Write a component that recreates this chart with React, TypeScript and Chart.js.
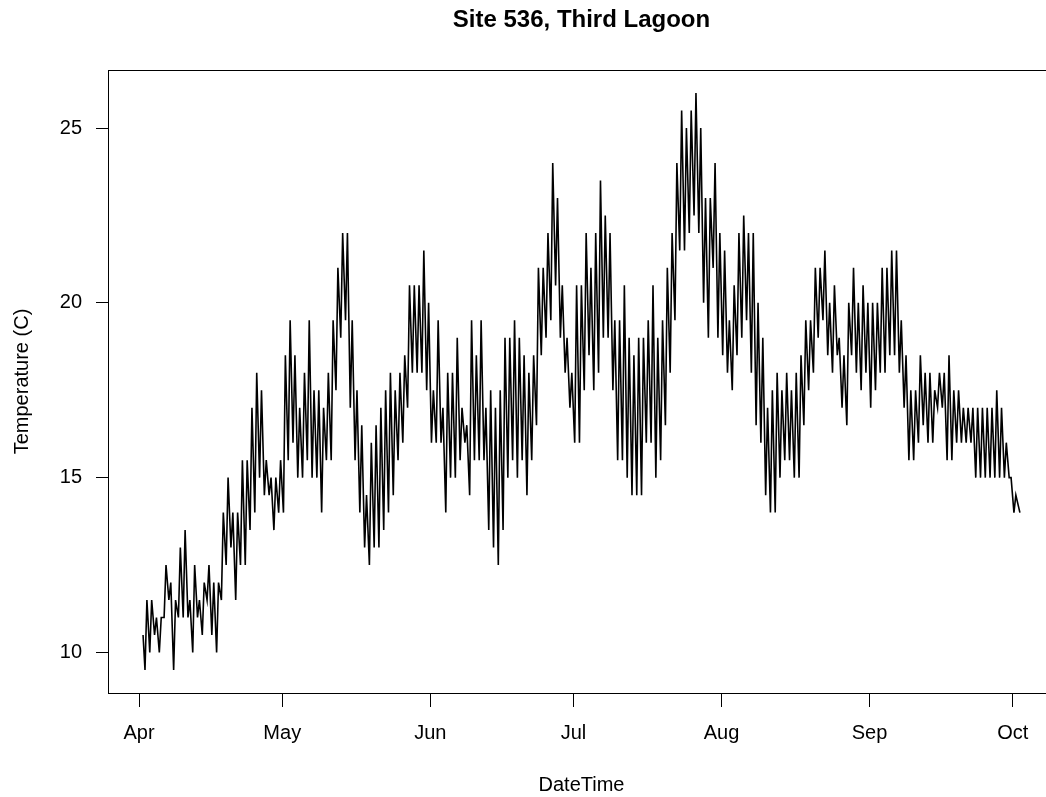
import React, { useEffect, useRef } from "react";
import { Chart, registerables } from "chart.js";

Chart.register(...registerables);

// Month tick positions (days since Apr 1) and labels
const monthStarts = [0, 30, 61, 91, 122, 153, 183];
const monthLabels = ["Apr", "May", "Jun", "Jul", "Aug", "Sep", "Oct"];
const yTicks = [10, 15, 20, 25];

// Daily low / high temperatures (C), starting Apr 2
const aprLow = [9.5, 10, 10.5, 10, 11, 11.5, 9.5, 11, 11, 11, 10, 11, 10.5, 11.5, 10.5, 10, 11.5, 12.5, 13, 11.5, 12.5, 12.5, 13.5, 14, 15, 14.5, 14.5, 13.5, 14];
const aprHigh = [11.5, 11.5, 11, 11, 12.5, 12, 11.5, 13, 13.5, 11.5, 12.5, 11.5, 12, 12.5, 12, 12, 14, 15, 14, 14, 15.5, 15.5, 17, 18, 17.5, 15.5, 15, 15, 15.5];
const mayLow = [14, 15.5, 16, 15, 15, 15.5, 15, 15, 14, 15.5, 15.5, 17.5, 19, 19.5, 17, 15.5, 14, 13, 12.5, 13, 13, 13.5, 14, 14.5, 15.5, 16, 17, 18, 18, 18, 17.5];
const mayHigh = [18.5, 19.5, 18.5, 17, 18, 19.5, 17.5, 17.5, 17, 18, 19.5, 21, 22, 22, 19.5, 17.5, 16.5, 14.5, 16, 16.5, 17, 17.5, 18, 17.5, 18, 18.5, 20.5, 20.5, 20.5, 21.5, 20];
const junLow = [16, 16, 16, 14, 15, 15, 15.5, 16, 14.5, 15.5, 15.5, 15.5, 13.5, 13, 12.5, 13.5, 15, 15.5, 15, 15.5, 14.5, 15.5, 16.5, 18.5, 19, 19.5, 20.5, 19, 18, 17];
const junHigh = [17.5, 19.5, 17, 18, 18, 19, 17, 16.5, 19.5, 18.5, 19.5, 17, 17.5, 17, 17.5, 19, 19, 19.5, 19, 18.5, 18, 18.5, 21, 21, 22, 24, 23, 20.5, 19, 18];
const julLow = [16, 16, 17.5, 18.5, 17.5, 18, 19, 19, 17.5, 15.5, 15.5, 15, 14.5, 14.5, 14.5, 16, 16, 15, 15.5, 16.5, 18, 19.5, 21.5, 21.5, 22, 22.5, 22, 20, 19, 21, 19];
const julHigh = [20.5, 20.5, 22, 21, 22, 23.5, 22.5, 22, 19.5, 19.5, 20.5, 19, 18.5, 19, 19, 19.5, 20.5, 19, 19.5, 21, 22, 24, 25.5, 25, 25.5, 26, 25, 23, 23, 24, 22];
const augLow = [18.5, 18, 17.5, 18.5, 19, 19.5, 18, 16.5, 16, 14.5, 14, 14, 15, 15.5, 15.5, 15, 15, 16.5, 17.5, 18, 19, 19.5, 18.5, 18, 18.5, 17, 16.5, 18.5, 18, 17.5, 18];
const augHigh = [21.5, 19.5, 20.5, 22, 22.5, 22, 22, 20, 19, 17, 17.5, 18, 17.5, 18, 17.5, 18, 18.5, 19.5, 19.5, 21, 21, 21.5, 20, 20.5, 19, 18.5, 20, 21, 20, 20.5, 20];
const sepLow = [17, 17.5, 18, 18, 18.5, 18.5, 18, 17, 15.5, 15.5, 16, 16.5, 16, 16, 17, 17, 15.5, 15.5, 16, 16, 16, 16, 15, 15, 15, 15, 15, 15, 15, 15];
const sepHigh = [20, 20, 21, 21, 21.5, 21.5, 19.5, 18.5, 17.5, 17.5, 18.5, 18, 18, 17.5, 18, 18, 18.5, 17.5, 17.5, 17, 17, 17, 17, 17, 17, 17, 17.5, 17, 16, 15];
const octLow = [14];
const octHigh = [14.5];

const firstReading = 10.5; // Apr 2, start of record
const lastReading = 14; // Oct 2, end of record

function buildPoints() {
  const lows = [...aprLow, ...mayLow, ...junLow, ...julLow, ...augLow, ...sepLow, ...octLow];
  const highs = [...aprHigh, ...mayHigh, ...junHigh, ...julHigh, ...augHigh, ...sepHigh, ...octHigh];
  const pts: { x: number; y: number }[] = [{ x: 0.84, y: firstReading }];
  for (let i = 0; i < lows.length; i++) {
    const d = 1 + i;
    pts.push({ x: d + 0.25, y: lows[i] });
    pts.push({ x: d + 0.65, y: highs[i] });
  }
  pts.push({ x: 1 + lows.length + 0.5, y: lastReading });
  return pts;
}

const FONT = "'Liberation Sans', Arial, Helvetica, sans-serif";

const boxPlugin = {
  id: "rbox",
  afterDraw(chart: any) {
    const { ctx, chartArea } = chart;
    ctx.save();
    ctx.strokeStyle = "#000";
    ctx.lineWidth = 1;
    ctx.strokeRect(chartArea.left + 0.5, chartArea.top + 0.5, chartArea.right - chartArea.left, chartArea.bottom - chartArea.top);
    ctx.fillStyle = "#000";
    ctx.font = `bold 24px ${FONT}`;
    ctx.textAlign = "center";
    ctx.textBaseline = "middle";
    ctx.fillText("Site 536, Third Lagoon", (chartArea.left + chartArea.right) / 2, 20);
    ctx.restore();
  },
};

export default function App() {
  const ref = useRef<HTMLCanvasElement | null>(null);
  useEffect(() => {
    if (!ref.current) return;
    const chart = new Chart(ref.current, {
      type: "line",
      data: {
        datasets: [
          {
            data: buildPoints(),
            borderColor: "#000",
            borderWidth: 1.6,
            pointRadius: 0,
            tension: 0,
            fill: false,
          },
        ],
      },
      options: {
        responsive: false,
        animation: false,
        layout: { padding: { top: 70, right: 5, left: 0, bottom: 0 } },
        plugins: { legend: { display: false }, tooltip: { enabled: false }, title: { display: false } },
        scales: {
          x: {
            type: "linear",
            min: -6.5,
            max: 191.85,
            afterBuildTicks: (s: any) => {
              s.ticks = monthStarts.map((v) => ({ value: v }));
            },
            afterFit: (s: any) => {
              s.height = 104;
            },
            ticks: {
              autoSkip: false,
              maxRotation: 0,
              padding: 14,
              color: "#000",
              font: { family: FONT, size: 20 },
              callback: (v: any) => monthLabels[monthStarts.indexOf(Number(v))] ?? "",
            },
            grid: { drawOnChartArea: false, drawTicks: true, tickLength: 14, color: "#000" },
            border: { display: true, color: "#000", width: 1 },
            title: { display: true, text: "DateTime", color: "#000", font: { family: FONT, size: 20 }, padding: { top: 0, bottom: 0 } },
          },
          y: {
            type: "linear",
            min: 8.84,
            max: 26.66,
            afterBuildTicks: (s: any) => {
              s.ticks = yTicks.map((v) => ({ value: v }));
            },
            afterFit: (s: any) => {
              s.width = 108;
            },
            ticks: { padding: 14, color: "#000", font: { family: FONT, size: 20 } },
            grid: { drawOnChartArea: false, drawTicks: true, tickLength: 12, color: "#000" },
            border: { display: true, color: "#000", width: 1 },
            title: { display: true, text: "Temperature (C)", color: "#000", font: { family: FONT, size: 20 }, padding: { top: 10, bottom: 0 } },
          },
        },
      },
      plugins: [boxPlugin],
    });
    return () => chart.destroy();
  }, []);

  return (
    <div style={{ position: "fixed", left: 0, top: 0, width: 1046, height: 797, overflow: "hidden", background: "#fff" }}>
      <canvas ref={ref} width={1060} height={797} style={{ display: "block", width: 1060, height: 797 }} />
    </div>
  );
}
